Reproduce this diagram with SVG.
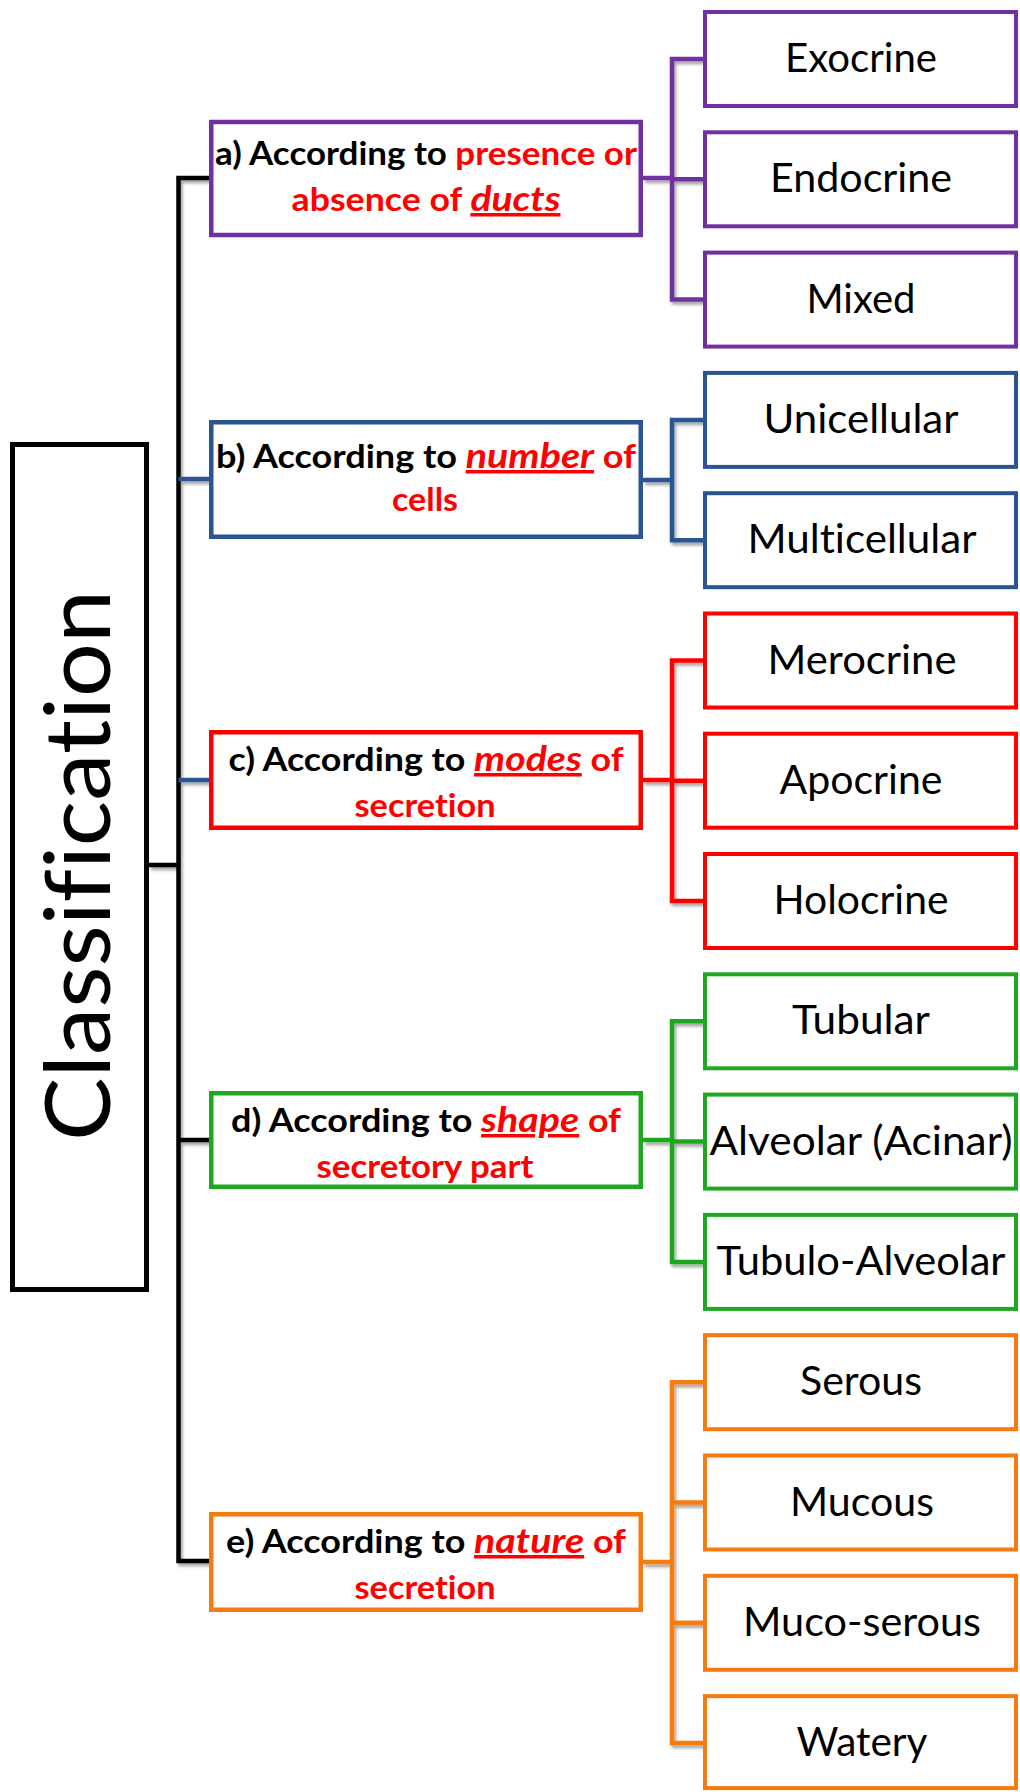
<svg xmlns="http://www.w3.org/2000/svg" width="1020" height="1792" viewBox="0 0 1020 1792">
  <defs>
    <filter id="sh" x="-20%" y="-20%" width="140%" height="140%">
      <feDropShadow dx="2" dy="3" stdDeviation="1.5" flood-color="#000" flood-opacity="0.35"/>
    </filter>
    <style>
      text { font-variant-ligatures: none; }
      .pbox { fill: #fff; stroke-width: 4.5; }
      .cbox { fill: #fff; stroke-width: 4; }
      .pur { stroke: #7030A0; }
      .blu { stroke: #2A5592; }
      .red { stroke: #FF0000; }
      .grn { stroke: #1FA81F; }
      .org { stroke: #F57B10; }
      .ptxt { font-family: Lato, "Liberation Sans", sans-serif; font-weight: bold; font-size: 32px; text-anchor: middle; }
      .ctxt { font-family: Lato, "Liberation Sans", sans-serif; font-size: 40px; text-anchor: middle; fill: #000; }
      .k { fill: #000; }
      .r { fill: #FF0000; }
      .kw { fill: #FF0000; font-style: italic; font-size: 35px; text-decoration: underline; }
      .conn { fill: none; stroke-width: 4.5; stroke-linejoin: miter; stroke-linecap: butt; }
    </style>
  </defs>
  <rect x="0" y="0" width="1020" height="1792" fill="#fff"/>

  <g id="connectors" filter="url(#sh)">
    <path class="conn" stroke="#000" d="M209,178 H178.5 V1561 H209 M178.5,1140 H209 M149,865 H178.5"/>
    <path class="conn" stroke="#2A5592" stroke-width="3.5" d="M178.5,479 H209 M178.5,780 H209"/>
    <path class="conn pur" d="M643,178 H672 M703,59 H672 V299.6 H703 M672,179.3 H703"/>
    <path class="conn blu" d="M643,480 H672 M703,419.9 H672 V540.2 H703"/>
    <path class="conn red" d="M643,780 H672 M703,660.5 H672 V901 H703 M672,780.7 H703"/>
    <path class="conn grn" d="M643,1140 H672 M703,1021.3 H672 V1261.9 H703 M672,1141.6 H703"/>
    <path class="conn org" d="M643,1562 H672 M703,1382.2 H672 V1743.1 H703 M672,1502.5 H703 M672,1622.8 H703"/>
  </g>

  <g id="classification">
    <rect x="12.5" y="444.5" width="134" height="845" fill="#fff" stroke="#000" stroke-width="5"/>
    <text transform="translate(110,865.5) rotate(-90)" font-family="Lato, 'Liberation Sans', sans-serif" font-size="92" text-anchor="middle" fill="#000" textLength="551" lengthAdjust="spacingAndGlyphs">Classification</text>
  </g>

  <g id="node-a">
    <rect class="pbox pur" x="211.25" y="122" width="429.5" height="113"/>
    <text class="ptxt" x="426" y="165" textLength="422" lengthAdjust="spacingAndGlyphs"><tspan class="k">a) According to </tspan><tspan class="r">presence or</tspan></text>
    <text class="ptxt" x="426" y="211" textLength="269" lengthAdjust="spacingAndGlyphs"><tspan class="r">absence of </tspan><tspan class="kw">ducts</tspan></text>
  </g>
  <g id="node-b">
    <rect class="pbox blu" x="211.25" y="422.25" width="429.5" height="114.5"/>
    <text class="ptxt" x="426" y="468" textLength="420" lengthAdjust="spacingAndGlyphs"><tspan class="k">b) According to </tspan><tspan class="kw">number</tspan><tspan class="r"> of</tspan></text>
    <text class="ptxt r" x="425" y="511" textLength="66" lengthAdjust="spacingAndGlyphs">cells</text>
  </g>
  <g id="node-c">
    <rect class="pbox red" x="211.25" y="732.25" width="429.5" height="95.5"/>
    <text class="ptxt" x="426" y="771" textLength="395" lengthAdjust="spacingAndGlyphs"><tspan class="k">c) According to </tspan><tspan class="kw">modes</tspan><tspan class="r"> of</tspan></text>
    <text class="ptxt r" x="425" y="817" textLength="141" lengthAdjust="spacingAndGlyphs">secretion</text>
  </g>
  <g id="node-d">
    <rect class="pbox grn" x="211.25" y="1093.25" width="429.5" height="93.5"/>
    <text class="ptxt" x="426" y="1132" textLength="390" lengthAdjust="spacingAndGlyphs"><tspan class="k">d) According to </tspan><tspan class="kw">shape</tspan><tspan class="r"> of</tspan></text>
    <text class="ptxt r" x="425" y="1178" textLength="217" lengthAdjust="spacingAndGlyphs">secretory part</text>
  </g>
  <g id="node-e">
    <rect class="pbox org" x="211.25" y="1514.25" width="429.5" height="95.5"/>
    <text class="ptxt" x="426" y="1553" textLength="400" lengthAdjust="spacingAndGlyphs"><tspan class="k">e) According to </tspan><tspan class="kw">nature</tspan><tspan class="r"> of</tspan></text>
    <text class="ptxt r" x="425" y="1599" textLength="141" lengthAdjust="spacingAndGlyphs">secretion</text>
  </g>

  <g id="exocrine"><rect class="cbox pur" x="705" y="12" width="311" height="94"/><text class="ctxt" x="861" y="72" textLength="152" lengthAdjust="spacingAndGlyphs">Exocrine</text></g>
  <g id="endocrine"><rect class="cbox pur" x="705" y="132.3" width="311" height="94"/><text class="ctxt" x="861" y="192.3" textLength="182" lengthAdjust="spacingAndGlyphs">Endocrine</text></g>
  <g id="mixed"><rect class="cbox pur" x="705" y="252.6" width="311" height="94"/><text class="ctxt" x="861" y="312.6" textLength="109" lengthAdjust="spacingAndGlyphs">Mixed</text></g>
  <g id="unicellular"><rect class="cbox blu" x="705" y="372.9" width="311" height="94"/><text class="ctxt" x="861" y="432.9" textLength="195" lengthAdjust="spacingAndGlyphs">Unicellular</text></g>
  <g id="multicellular"><rect class="cbox blu" x="705" y="493.2" width="311" height="94"/><text class="ctxt" x="862" y="553.2" textLength="229" lengthAdjust="spacingAndGlyphs">Multicellular</text></g>
  <g id="merocrine"><rect class="cbox red" x="705" y="613.5" width="311" height="94"/><text class="ctxt" x="862" y="673.5" textLength="189" lengthAdjust="spacingAndGlyphs">Merocrine</text></g>
  <g id="apocrine"><rect class="cbox red" x="705" y="733.7" width="311" height="94"/><text class="ctxt" x="861" y="793.7" textLength="163" lengthAdjust="spacingAndGlyphs">Apocrine</text></g>
  <g id="holocrine"><rect class="cbox red" x="705" y="854" width="311" height="94"/><text class="ctxt" x="861" y="914" textLength="175" lengthAdjust="spacingAndGlyphs">Holocrine</text></g>
  <g id="tubular"><rect class="cbox grn" x="705" y="974.3" width="311" height="94"/><text class="ctxt" x="861" y="1034.3" textLength="138" lengthAdjust="spacingAndGlyphs">Tubular</text></g>
  <g id="alveolar"><rect class="cbox grn" x="705" y="1094.6" width="311" height="94"/><text class="ctxt" x="861" y="1154.6" textLength="303" lengthAdjust="spacingAndGlyphs">Alveolar (Acinar)</text></g>
  <g id="tubulo-alveolar"><rect class="cbox grn" x="705" y="1214.9" width="311" height="94"/><text class="ctxt" x="861" y="1274.9" textLength="289" lengthAdjust="spacingAndGlyphs">Tubulo-Alveolar</text></g>
  <g id="serous"><rect class="cbox org" x="705" y="1335.2" width="311" height="94"/><text class="ctxt" x="861" y="1395.2" textLength="122" lengthAdjust="spacingAndGlyphs">Serous</text></g>
  <g id="mucous"><rect class="cbox org" x="705" y="1455.5" width="311" height="94"/><text class="ctxt" x="862" y="1515.5" textLength="144" lengthAdjust="spacingAndGlyphs">Mucous</text></g>
  <g id="muco-serous"><rect class="cbox org" x="705" y="1575.8" width="311" height="94"/><text class="ctxt" x="862" y="1635.8" textLength="238" lengthAdjust="spacingAndGlyphs">Muco-serous</text></g>
  <g id="watery"><rect class="cbox org" x="705" y="1696.1" width="311" height="92"/><text class="ctxt" x="862" y="1756.1" textLength="131" lengthAdjust="spacingAndGlyphs">Watery</text></g>
</svg>
